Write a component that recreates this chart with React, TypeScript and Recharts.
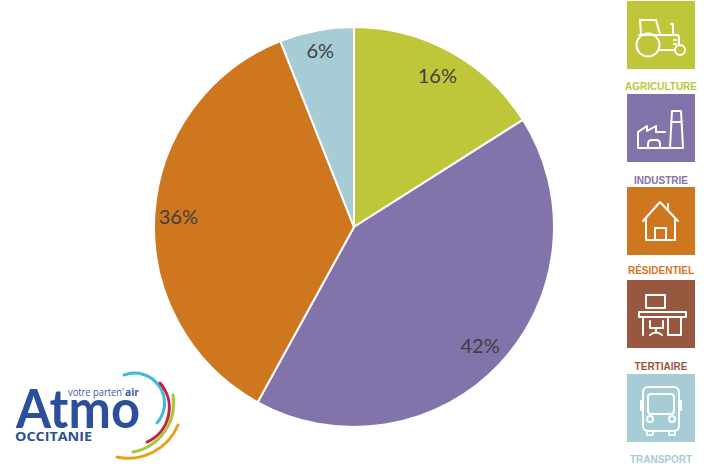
import { Cell, Pie, PieChart } from "recharts";

const slices = ["Agriculture", "Industrie", "Résidentiel", "Transport"];
const shares = [16, 42, 36, 6];
const sliceColors = ["#BFC639", "#8274AB", "#CF771F", "#A6CDD6"];

const sectorLabels = ["AGRICULTURE", "INDUSTRIE", "RÉSIDENTIEL", "TERTIAIRE", "TRANSPORT"];
const sectorColors = ["#BFC639", "#8274AB", "#CF771F", "#98573F", "#A6CDD6"];

const data = slices.map((name, i) => ({ name, value: shares[i] }));

const RADIAN = Math.PI / 180;
const labelRadius = [173, 173, 176, 180];

function ShareLabel({ cx, cy, midAngle, value, index }: any) {
  const r = labelRadius[index];
  return (
    <text
      x={cx + r * Math.cos(-midAngle * RADIAN)}
      y={cy + r * Math.sin(-midAngle * RADIAN)}
      textAnchor="middle"
      dominantBaseline="central"
      fontFamily="Lato, sans-serif"
      fontSize={20}
      fill="#404040"
    >
      {value}%
    </text>
  );
}

const Tractor = () => (
  <>
    <circle cx={21} cy={44} r={11.5} />
    <circle cx={53} cy={49} r={5} />
    <path d="M14 33 L13 19 H29 L33 33 M12 34 H50 Q52 34 52 37 V44 M33 49 H48 M44 23 H46 V33" />
    <path d="M47 39 H49 M47 43 H49" />
  </>
);

const Factory = () => (
  <>
    <path d="M11 54 V38 L20 32 V37 L29 32 V38 H38 M11 54 H42 M43 54 L45 17 H54 L56 54 Z M44 28 H55" />
    <path d="M21 54 V50 Q21 46 25 46 H29 Q33 46 33 50 V54" />
  </>
);

const House = () => (
  <>
    <path d="M16 34 L33 15 L51 34 M19 32 V53 H48 V32 M41 23 V17" />
    <path d="M28 53 V41 H39 V53" />
  </>
);

const Desk = () => (
  <>
    <rect x={19} y={15} width={19} height={13} />
    <rect x={12} y={32} width={47} height={5} />
    <path d="M16 37 V55 M41 37 V55 H54 V37" />
    <path d="M23 41 V48 H36 V41 M29 48 V52 M23 55 Q29 50 35 55" />
  </>
);

const Bus = () => (
  <>
    <rect x={16} y={13} width={36} height={44} rx={5} />
    <rect x={21} y={20} width={26} height={20} rx={3} />
    <circle cx={23} cy={45} r={3} />
    <circle cx={45} cy={45} r={3} />
    <path d="M16 27 H14 V36 H16 M52 27 H54 V36 H52 M20 57 V61 H26 V57 M42 57 V61 H48 V57" />
  </>
);

const sectorIcons = [Tractor, Factory, House, Desk, Bus];
const iconTops = [1, 94, 187, 280, 374];
const captionYs = [86, 180, 270, 366, 459];

function SectorColumn() {
  return (
    <g>
      {sectorLabels.map((label, i) => {
        const Icon = sectorIcons[i];
        return (
          <g key={label}>
            <g transform={`translate(627 ${iconTops[i]})`}>
              <rect width={68} height={68} fill={sectorColors[i]} />
              <g fill="none" stroke="#fff" strokeWidth={2} strokeLinejoin="round" strokeLinecap="round">
                <Icon />
              </g>
            </g>
            <text
              x={661}
              y={captionYs[i]}
              textAnchor="middle"
              dominantBaseline="central"
              fontFamily="Liberation Sans, sans-serif"
              fontWeight={700}
              fontSize={10}
              fill={sectorColors[i]}
            >
              {label}
            </text>
          </g>
        );
      })}
    </g>
  );
}

function Logo() {
  return (
    <g>
      <text x={68} y={396} fontFamily="Open Sans, sans-serif" fontSize={10} fill="#3A5AA5" textLength={56} lengthAdjust="spacingAndGlyphs">
        votre parten'
      </text>
      <text x={125} y={396} fontFamily="Open Sans, sans-serif" fontWeight={700} fontSize={10} fill="#3A5AA5" textLength={14} lengthAdjust="spacingAndGlyphs">
        air
      </text>
      <text x={16} y={428} fontFamily="Lato, sans-serif" fontWeight={700} fontSize={53} fill="#2C4F9C" textLength={124} lengthAdjust="spacingAndGlyphs">
        Atmo
      </text>
      <text x={15} y={441} fontFamily="Open Sans, sans-serif" fontWeight={700} fontSize={11.5} fill="#2C4F9C" textLength={77} lengthAdjust="spacingAndGlyphs">
        OCCITANIE
      </text>
      <g fill="none" strokeWidth={3} strokeLinecap="round">
        <path d="M124 375 A30 30 0 0 1 157 423" stroke="#3DBBD9" />
        <path d="M160 383 A37.5 37.5 0 0 1 147 442" stroke="#C4203F" />
        <path d="M173 395 A50 50 0 0 1 133 452" stroke="#A9C63A" />
        <path d="M178 425 A54 54 0 0 1 117 457" stroke="#E8A020" />
      </g>
    </g>
  );
}

export default function App() {
  return (
    <div style={{ position: "absolute", left: 0, top: 0, width: 708, height: 468 }}>
      <PieChart width={708} height={468} margin={{ top: 0, right: 0, bottom: 0, left: 0 }}>
        <Pie
          data={data}
          dataKey="value"
          cx={354}
          cy={227}
          outerRadius={200}
          startAngle={90}
          endAngle={-270}
          stroke="#fff"
          strokeWidth={2}
          label={ShareLabel}
          labelLine={false}
          isAnimationActive={false}
        >
          {data.map((d, i) => (
            <Cell key={d.name} fill={sliceColors[i]} />
          ))}
        </Pie>
      </PieChart>
      <svg width={708} height={468} style={{ position: "absolute", left: 0, top: 0 }}>
        <SectorColumn />
        <Logo />
      </svg>
    </div>
  );
}
